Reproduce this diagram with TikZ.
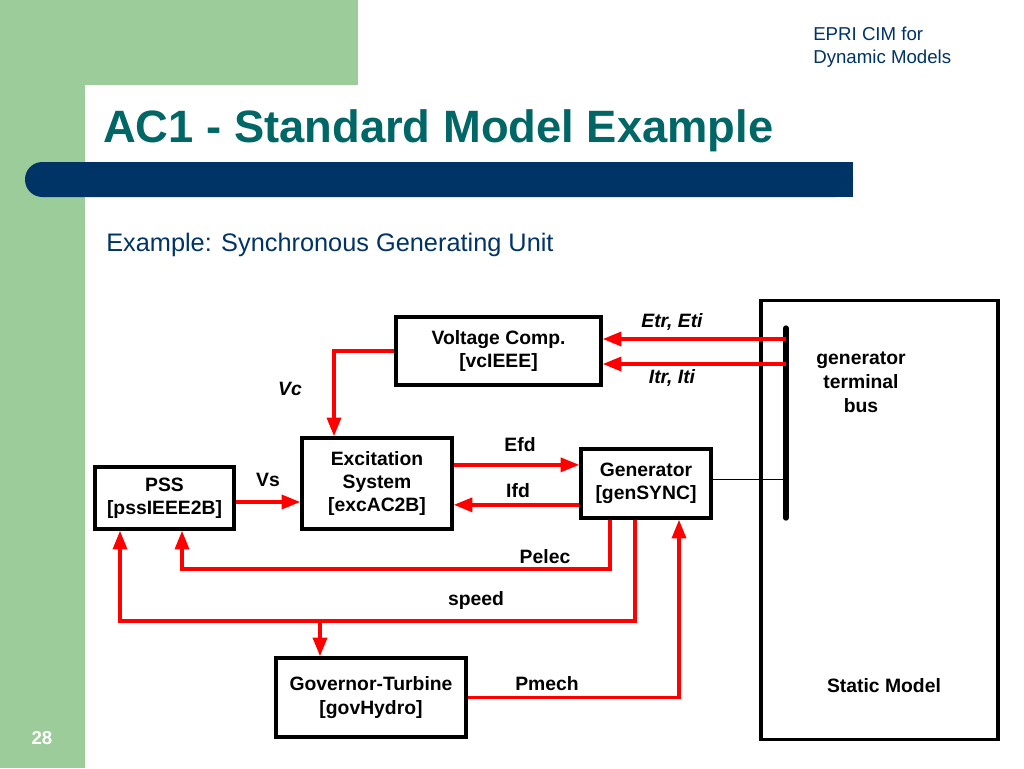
\documentclass[tikz,border=0pt]{standalone}
\usepackage{fontspec}
\setmainfont{Liberation Sans}
\usetikzlibrary{arrows.meta, positioning}

\definecolor{slidegreen}{RGB}{155,204,153}
\definecolor{slidenavy}{RGB}{0,51,102}
\definecolor{titleteal}{RGB}{0,102,102}

\begin{document}
\begin{tikzpicture}[x=0.75pt, y=-0.75pt,
    block/.style={rectangle, draw, line width=2.6pt, align=center, inner sep=0pt, font=\bfseries\fontsize{14.5}{17.6}\selectfont},
    sig/.style={red, line width=2.6pt, -{Triangle[length=14pt, width=10.5pt]}},
    lbl/.style={font=\bfseries\fontsize{14.5}{18}\selectfont},
    ilbl/.style={font=\bfseries\itshape\fontsize{14.5}{18}\selectfont}]
    \useasboundingbox (0,0) rectangle (1024,768);

    % slide background
    \fill [white] (0,0) rectangle (1024,768);
    \fill [slidegreen] (0,0) rectangle (358,85);
    \fill [slidegreen] (0,0) rectangle (85,768);
    \fill [white, rounded corners=15pt] (85,85) rectangle (1200,900);
    \fill [slidenavy, rounded corners=13pt] (25,162) rectangle (853,197);
    \fill [slidenavy] (400,162) rectangle (853,197);

    \node [anchor=base west, inner sep=0pt, text=titleteal, font=\bfseries\fontsize{34}{40}\selectfont] (title) at (103,142) {AC1 - Standard Model Example};
    \node [anchor=base west, inner sep=0pt, text=slidenavy, font=\fontsize{19}{23}\selectfont] (subtitle) at (106,251) {Example: Synchronous Generating Unit};
    \node [anchor=north west, inner sep=0pt, align=left, text=slidenavy, font=\fontsize{14}{17.3}\selectfont] (epri) at (813,27) {EPRI CIM for\\Dynamic Models};
    \node [text=white, font=\bfseries\fontsize{14}{16}\selectfont] (pagenum) at (42,738) {28};

    % blocks
    \node [block, minimum width=153.75pt, minimum height=51pt] (vc) at (498.5,351) {Voltage Comp.\\{}[vcIEEE]};
    \node [block, minimum width=112.5pt, minimum height=68.25pt] (exc) at (377,483.5) {Excitation\\System\\{}[excAC2B]};
    \node [block, minimum width=104.25pt, minimum height=46.5pt] (pss) at (164.5,498) {PSS\\{}[pssIEEE2B]};
    \node [block, minimum width=97.5pt, minimum height=51.75pt] (gen) at (646,483.5) {Generator\\{}[genSYNC]};
    \node [block, minimum width=142.5pt, minimum height=59.25pt] (gov) at (371,697.5) {Governor-Turbine\\{}[govHydro]};
    \node [block, minimum width=177.75pt, minimum height=329.25pt] (static) at (879.5,520) {};
    \node [lbl] (staticlbl) at (884,686) {Static Model};
    \node [lbl, align=center] (buslbl) at (861,382) {generator\\terminal\\bus};

    % terminal bus
    \coordinate (bustop) at (786,328);
    \coordinate (busbot) at (786,518);
    \draw [line width=4pt, line cap=round] (bustop) -- (busbot);

    % signals
    \coordinate (etr) at ([yshift=9pt]vc.east);
    \coordinate (itr) at ([yshift=-9.75pt]vc.east);
    \draw [sig] (etr -| bustop) -- (etr);
    \draw [sig] (itr -| bustop) -- (itr);

    \coordinate (vcx) at (334,0);
    \draw [sig] (vc.west) -| (vcx |- exc.north);

    \coordinate (efd) at ([yshift=14pt]exc.east);
    \coordinate (ifd) at ([yshift=-16pt]gen.west);
    \draw [sig] (efd) -- (efd -| gen.west);
    \draw [sig] (ifd) -- (ifd -| exc.east);

    \coordinate (vs) at ([yshift=-3pt]pss.east);
    \draw [sig] (vs) -- (vs -| exc.west);

    \coordinate (pelec) at ([xshift=-27pt]gen.south);
    \coordinate (pelecbend) at (182,569);
    \draw [sig] (pelec) |- (pelecbend) -- (pelecbend |- pss.south);

    \coordinate (speed) at ([xshift=-8.25pt]gen.south);
    \coordinate (speedbend) at (120,621);
    \coordinate (speedtap) at (320,621);
    \draw [sig] (speed) |- (speedbend) -- (speedbend |- pss.south);
    \draw [sig] (speedtap) -- (speedtap |- gov.north);

    \coordinate (pmech) at ([xshift=24.75pt]gen.south);
    \draw [sig] (gov.east) -| (pmech);

    \coordinate (genout) at ([yshift=3pt]gen.east);
    \draw [line width=0.8pt] (genout) -- (genout -| bustop);

    % signal names
    \node [ilbl] (etrlbl) at (672,322) {Etr, Eti};
    \node [ilbl] (itrlbl) at (672,378) {Itr, Iti};
    \node [ilbl] (vclbl) at (290,389) {Vc};
    \node [lbl] (efdlbl) at (520,445) {Efd};
    \node [lbl] (ifdlbl) at (518,491) {Ifd};
    \node [lbl] (vslbl) at (268,480) {Vs};
    \node [lbl] (peleclbl) at (545,557) {Pelec};
    \node [lbl] (speedlbl) at (476,600) {speed};
    \node [lbl] (pmechlbl) at (547,684) {Pmech};
\end{tikzpicture}
\end{document}
